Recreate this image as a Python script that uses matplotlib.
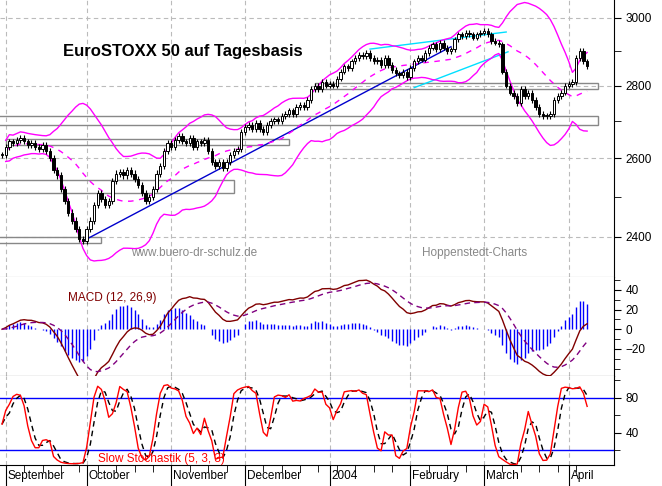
import matplotlib
matplotlib.use("Agg")
import matplotlib.pyplot as plt
from matplotlib.ticker import FixedLocator, NullFormatter
import numpy as np
import pandas as pd

# daily closes EuroSTOXX 50
closes = [
    2610, 2630, 2645, 2640, 2650, 2655, 2645, 2635, 2640, 2630,
    2625, 2635, 2620, 2600, 2570, 2555, 2520, 2490, 2460, 2440,
    2420, 2395, 2390, 2420, 2440, 2480, 2510, 2495, 2480, 2490,
    2540, 2560, 2565, 2555, 2570, 2560, 2545, 2530, 2510, 2490,
    2500, 2520, 2560, 2580, 2620, 2640, 2630, 2650, 2660, 2645,
    2640, 2655, 2630, 2645, 2640, 2650, 2620, 2590, 2580, 2590,
    2575, 2590, 2610, 2620, 2625, 2670, 2685, 2690, 2680, 2695,
    2680, 2670, 2690, 2700, 2705, 2700, 2715, 2720, 2730, 2720,
    2740, 2745, 2740, 2760, 2790, 2800, 2790, 2810, 2800, 2805,
    2800, 2820, 2840, 2855, 2850, 2870, 2880, 2890, 2885, 2895,
    2880, 2870, 2875, 2860, 2880, 2860, 2845, 2835, 2830, 2840,
    2825, 2850, 2870, 2880, 2875, 2895, 2910, 2920, 2905, 2925,
    2910, 2900, 2905, 2935, 2950, 2945, 2955, 2950, 2940, 2950,
    2955, 2960, 2950, 2930, 2925, 2920, 2840, 2800, 2780, 2770,
    2750, 2790, 2770, 2780, 2760, 2740, 2720, 2715, 2715, 2720,
    2760, 2770, 2780, 2800, 2805, 2810, 2880, 2900, 2870, 2855,
]
start_date = "2003-08-29"
month_labels = ["September", "October", "November", "December", "2004",
                "February", "March", "April"]

# support zones (price low, price high, first index, last index)
zones = [(2790, 2807, 85, 162), (2690, 2714, -1, 162), (2510, 2542, -1, 63),
         (2384, 2400, -1, 27), (2636, 2652, 1, 78)]
# trend lines (index, price) pairs
blue_line = [(22, 2390), (122, 2913)]
cyan_lines = [[(100, 2906), (137, 2957)], [(112, 2794), (137.5, 2898)]]

dates = pd.bdate_range(start_date, periods=len(closes))
c = pd.Series(closes, dtype=float)
o = c.shift(1).fillna(c.iloc[0])
idx = np.arange(len(c))

# indicators
mid = c.rolling(20, min_periods=2).mean()
sd = c.rolling(20, min_periods=2).std()
up, lo = mid + 2 * sd, mid - 2 * sd
macd = c.ewm(span=12, adjust=False).mean() - c.ewm(span=26, adjust=False).mean()
sig = macd.ewm(span=9, adjust=False).mean()
hist = macd - sig
hh = c.rolling(5, min_periods=1).max() + 6
ll = c.rolling(5, min_periods=1).min() - 6
fastk = 100 * (c - ll) / (hh - ll)
k = fastk.rolling(3, min_periods=1).mean()
d = k.rolling(3, min_periods=1).mean()

plt.rcParams["font.family"] = ["Liberation Sans", "DejaVu Sans"]
W, H = 662, 486
fig = plt.figure(figsize=(W / 100, H / 100), dpi=100)
axw = 614 / W
ax1 = fig.add_axes([0, 1 - 277 / H, axw, 277 / H])
ax2 = fig.add_axes([0, 1 - 376 / H, axw, 99 / H], sharex=ax1)
ax3 = fig.add_axes([0, 1 - 465 / H, axw, 89 / H], sharex=ax1)

month_pos = [i for i in range(1, len(dates)) if dates[i].month != dates[i - 1].month]
week_pos = [i for i in range(len(dates)) if dates[i].weekday() == 0]

for ax in (ax1, ax2, ax3):
    ax.set_xlim(-0.55, 166.3)
    for p in month_pos:
        ax.axvline(p, color="#bbbbbb", ls=(0, (4, 3)), lw=0.8, zorder=0)
    ax.yaxis.tick_right()
    for s in ("left", "top"):
        ax.spines[s].set_visible(False)
    ax.tick_params(axis="y", labelsize=8.5, length=5, direction="out")
    ax.tick_params(axis="x", bottom=False, labelbottom=False)

# price panel
ax1.set_yscale("log")
ax1.set_ylim(2304, 3055)
ax1.yaxis.set_major_locator(FixedLocator([2400, 2600, 2800, 3000]))
ax1.yaxis.set_minor_locator(FixedLocator([2500, 2700, 2900]))
ax1.yaxis.set_major_formatter(plt.FuncFormatter(lambda v, p: f"{v:.0f}"))
ax1.yaxis.set_minor_formatter(NullFormatter())
ax1.tick_params(axis="y", which="minor", length=5)
for v in [2400, 2600, 2800, 3000]:
    ax1.axhline(v, color="#bbbbbb", ls=(0, (4, 3)), lw=0.8, zorder=0)
ax1.spines["bottom"].set_color("#888888")
for y0, y1, i0, i1 in zones:
    ax1.add_patch(plt.Rectangle((i0, y0), i1 - i0, y1 - y0, fill=False,
                                ec="#888888", lw=1, zorder=1))
ax1.plot(*zip(*blue_line), color="#0000cc", lw=1, zorder=2)
for ln in cyan_lines:
    ax1.plot(*zip(*ln), color="#00e0ff", lw=1, zorder=2)
ax1.plot(idx, up, color="#ff00ff", lw=1, zorder=2)
ax1.plot(idx, lo, color="#ff00ff", lw=1, zorder=2)
ax1.plot(idx, mid, color="#ff00ff", lw=1, ls=(0, (4, 4)), zorder=2)
hi_ = np.maximum(o, c) + 8
lw_ = np.minimum(o, c) - 8
ax1.vlines(idx, lw_, hi_, color="black", lw=0.8, zorder=3)
down = c < o
ax1.bar(idx, (c - o).abs().clip(lower=2), bottom=np.minimum(o, c), width=0.65,
        color=np.where(down, "black", "white"), edgecolor="black", lw=0.7, zorder=4)
ax1.text(63 / 614 * 166.85 - 0.55, 2898, "EuroSTOXX 50 auf Tagesbasis",
         fontsize=12, fontweight="bold", va="center")
ax1.text(35, 2360, "www.buero-dr-schulz.de", fontsize=8.5, color="#888888", va="center")
ax1.text(114, 2360, "Hoppenstedt-Charts", fontsize=8.5, color="#888888", va="center")

# MACD panel
ax2.set_ylim(-47.5, 53)
ax2.set_yticks([-20, 0, 20, 40])
ax2.set_yticks([-40, -30, -10, 10, 30, 50], minor=True)
ax2.tick_params(axis="y", which="minor", length=4)
ax2.vlines(idx, 0, hist * 1.4, color="#0000ff", lw=1)
ax2.plot(idx, macd, color="#800000", lw=1)
ax2.plot(idx, sig, color="#800080", lw=1, ls=(0, (4, 3)))
ax2.text(18, 32, "MACD (12, 26,9)", color="#800000", fontsize=8.5, va="center")
ax2.spines["bottom"].set_color("black")

# stochastic panel
ax3.set_ylim(3.4, 105)
ax3.set_yticks([40, 80])
ax3.set_yticks([20, 60, 100], minor=True)
ax3.tick_params(axis="y", which="minor", length=4)
ax3.axhline(80, color="#0000ff", lw=1)
ax3.axhline(20, color="#0000ff", lw=1)
ax3.plot(idx, d, color="black", lw=1, ls=(0, (4, 3)))
ax3.plot(idx, k, color="#ff0000", lw=1)
ax3.text(26, 10, "Slow Stochastik (5, 3, 3)", color="#ff0000", fontsize=8.5, va="center")

# x axis labels
ax3.tick_params(axis="x", which="major", bottom=True, length=20, direction="out")
ax3.tick_params(axis="x", which="minor", bottom=True, length=5, direction="out")
ax3.set_xticks(month_pos)
ax3.set_xticks(week_pos, minor=True)
ax3.set_xticklabels([])
for p, lab in zip(month_pos, month_labels):
    fig.text((p + 0.55) / 166.85 * axw + 0.003, 1 - 476 / H, lab, fontsize=8.5, va="center")

fig.savefig("out.png", dpi=100)
